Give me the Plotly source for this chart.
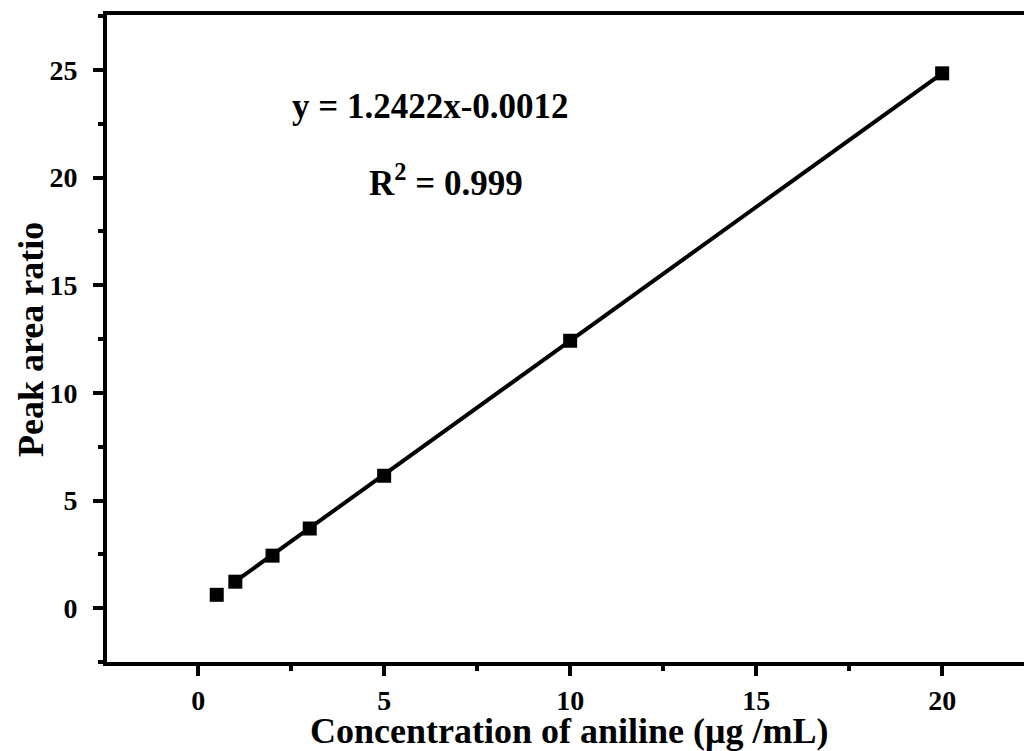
import plotly.graph_objects as go

conc = [0.5, 1, 2, 3, 5, 10, 20]
ratio = [0.62, 1.23, 2.44, 3.70, 6.15, 12.42, 24.84]
fit_x = [1, 20]
fit_y = [1.241, 24.843]
x_ticks = [0, 5, 10, 15, 20]
y_ticks = [0, 5, 10, 15, 20, 25]

font_family = "Liberation Serif"

W, H = 1024, 751
L, R, T, B = 107, 0, 15, 89
pw, ph = W - L - R, H - T - B

def px2paper(px, py):
    return (px - L) / pw, 1 - (py - T) / ph

fig = go.Figure()
fig.add_trace(go.Scatter(x=fit_x, y=fit_y, mode="lines",
                         line=dict(color="black", width=4), showlegend=False))
fig.add_trace(go.Scatter(x=conc, y=ratio, mode="markers",
                         marker=dict(symbol="square", size=14, color="black",
                                     line=dict(width=0)), showlegend=False))

ax, ay = px2paper(430, 107)
fig.add_annotation(x=ax, y=ay, xref="paper", yref="paper", xanchor="center", yanchor="middle",
                   text="y = 1.2422x-0.0012", showarrow=False,
                   font=dict(family=font_family, size=35, color="black", weight="bold"))
ax, ay = px2paper(446, 180)
fig.add_annotation(x=ax, y=ay, xref="paper", yref="paper", xanchor="center", yanchor="middle",
                   text="R<sup>2</sup> = 0.999", showarrow=False,
                   font=dict(family=font_family, size=35, color="black", weight="bold"))

tickfont = dict(size=28, family=font_family, weight="bold", color="black")
titlefont = dict(size=36, family=font_family, weight="bold", color="black")

# axis titles pinned as annotations
ax, ay = px2paper(31, 340)
fig.add_annotation(x=ax, y=ay, xref="paper", yref="paper", xanchor="center", yanchor="middle",
                   text="Peak area ratio", textangle=-90, showarrow=False, font=titlefont)
ax, ay = px2paper(569, 731)
fig.add_annotation(x=ax, y=ay, xref="paper", yref="paper", xanchor="center", yanchor="middle",
                   text="Concentration of aniline (μg /mL)", showarrow=False, font=titlefont)

fig.update_layout(
    width=W, height=H,
    margin=dict(l=L, r=R, t=T, b=B),
    plot_bgcolor="white", paper_bgcolor="white",
    font=dict(family=font_family, color="black"),
    xaxis=dict(range=[-2.45, 22.2], tickvals=x_ticks, showgrid=False, zeroline=False,
               automargin=False,
               showline=True, linewidth=4, linecolor="black", mirror=True,
               ticks="outside", ticklen=10, tickwidth=4, tickcolor="black",
               minor=dict(dtick=2.5, tick0=0, ticks="outside", ticklen=5, tickwidth=4, tickcolor="black"),
               tickfont=tickfont),
    yaxis=dict(range=[-2.5, 27.55], tickvals=y_ticks, showgrid=False, zeroline=False,
               automargin=False,
               showline=True, linewidth=4, linecolor="black", mirror=False,
               ticks="outside", ticklen=10, tickwidth=4, tickcolor="black",
               minor=dict(dtick=2.5, tick0=0, ticks="outside", ticklen=5, tickwidth=4, tickcolor="black"),
               tickfont=tickfont, ticklabelstandoff=10),
)

fig.write_html("out.html")
